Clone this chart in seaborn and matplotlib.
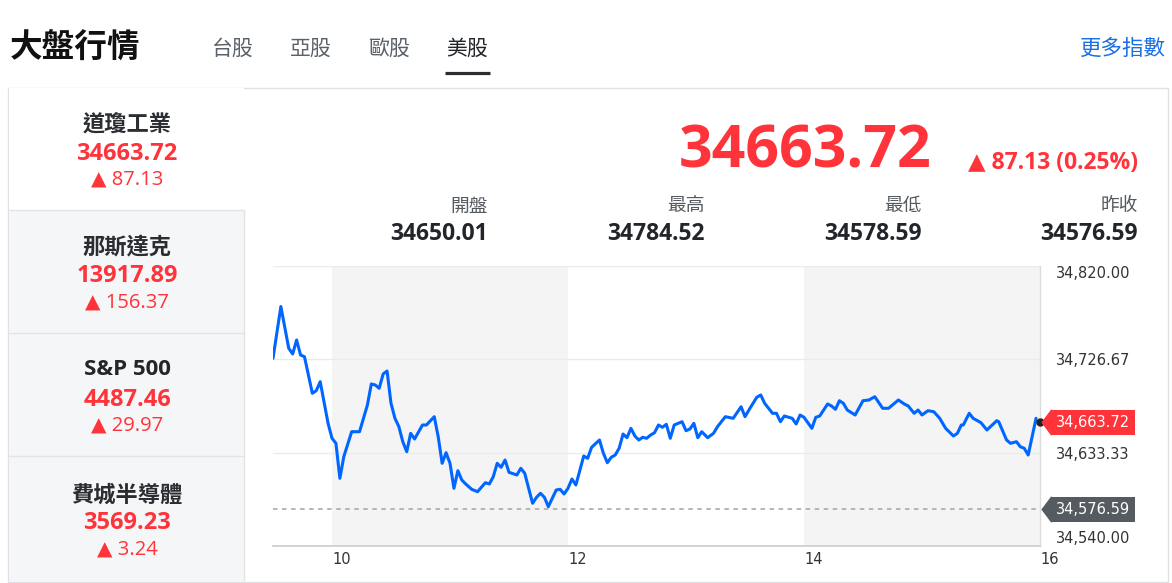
import matplotlib
matplotlib.use("Agg")
import matplotlib.pyplot as plt
import seaborn as sns
import pandas as pd
from matplotlib.patches import Rectangle
from matplotlib.lines import Line2D
from matplotlib.transforms import ScaledTranslation

# ---------------- data ----------------
page_title = "大盤行情"
market_tabs = ["台股", "亞股", "歐股", "美股"]
active_tab = "美股"
more_link = "更多指數"

index_names = ["道瓊工業", "那斯達克", "S&P 500", "費城半導體"]
index_prices = [34663.72, 13917.89, 4487.46, 3569.23]
index_changes = [87.13, 156.37, 29.97, 3.24]

last_price = 34663.72
last_change = 87.13
change_pct = 0.25
stat_labels = ["開盤", "最高", "最低", "昨收"]
stat_values = [34650.01, 34784.52, 34578.59, 34576.59]
prev_close = 34576.59

minutes_since_open = [
    0, 4, 8, 10, 12, 14, 16, 20, 22, 24,
    28, 30, 32, 34, 36, 40, 44, 48, 50, 52,
    54, 56, 58, 60, 62, 64, 66, 68, 70, 72,
    76, 78, 82, 84, 86, 88, 90, 92, 94, 96,
    98, 101, 104, 108, 110, 112, 114, 116, 118, 120,
    124, 126, 128, 132, 134, 136, 138, 140, 142, 144,
    146, 148, 150, 152, 154, 158, 160, 162, 166, 168,
    170, 172, 174, 176, 178, 180, 182, 184, 186, 188,
    190, 192, 194, 196, 198, 200, 202, 204, 208, 210,
    212, 214, 216, 218, 221, 224, 226, 230, 234, 238,
    240, 243, 246, 248, 250, 254, 256, 258, 260, 264,
    266, 268, 270, 274, 276, 278, 282, 284, 286, 288,
    290, 292, 296, 300, 303, 306, 310, 313, 318, 321,
    323, 326, 328, 330, 333, 336, 339, 342, 346, 348,
    350, 351, 354, 356, 360, 363, 368, 369, 373, 375,
    378, 380, 382, 384, 388,
]
dow_values = [
    34727.7, 34779.5, 34737.7, 34732.0, 34746.0, 34731.0, 34729.3, 34692.7, 34695.3, 34704.3,
    34662.7, 34647.7, 34642.7, 34607.7, 34629.3, 34654.3, 34654.3, 34681.0, 34702.0, 34701.0,
    34697.7, 34712.0, 34715.0, 34682.7, 34667.7, 34659.3, 34644.3, 34634.3, 34652.7, 34647.0,
    34661.0, 34661.0, 34669.3, 34649.3, 34622.7, 34633.3, 34622.7, 34597.7, 34615.3, 34606.0,
    34602.0, 34596.7, 34594.3, 34603.3, 34602.0, 34609.3, 34622.7, 34618.7, 34626.0, 34613.7,
    34611.0, 34617.7, 34612.7, 34582.7, 34588.7, 34592.7, 34588.7, 34579.3, 34587.7, 34596.0,
    34596.7, 34592.0, 34597.7, 34607.0, 34601.0, 34630.0, 34627.7, 34638.7, 34646.0, 34632.7,
    34623.3, 34628.7, 34631.0, 34637.7, 34652.0, 34648.3, 34657.7, 34650.0, 34646.0, 34648.7,
    34647.7, 34651.0, 34653.3, 34661.0, 34658.7, 34661.7, 34647.7, 34661.0, 34664.3, 34655.3,
    34657.0, 34662.7, 34648.3, 34654.3, 34648.3, 34652.7, 34659.3, 34669.3, 34667.7, 34679.3,
    34669.3, 34679.3, 34688.7, 34691.0, 34682.7, 34672.7, 34672.7, 34664.3, 34670.0, 34667.7,
    34662.0, 34671.0, 34668.7, 34657.7, 34668.7, 34670.0, 34682.0, 34680.0, 34676.7, 34685.3,
    34682.7, 34676.0, 34671.0, 34685.3, 34686.0, 34689.3, 34677.7, 34677.7, 34686.0, 34682.0,
    34680.0, 34672.7, 34676.0, 34671.0, 34675.3, 34674.3, 34667.7, 34657.7, 34650.0, 34652.7,
    34661.0, 34661.0, 34672.7, 34667.7, 34663.3, 34656.0, 34665.3, 34664.3, 34646.0, 34642.7,
    34644.3, 34639.3, 34637.7, 34631.0, 34667.7,
]
session_open_hour = 9.5
session_close_hour = 16.0

y_ticks = [34540.00, 34633.33, 34726.67, 34820.00]
x_ticks = [10, 12, 14, 16]
shaded_hours = [(10, 12), (14, 16)]

# ---------------- style ----------------
sns.set_theme(style="white")
plt.rcParams['font.family'] = ['Noto Sans CJK TC', 'DejaVu Sans']

CJK = ['Noto Sans CJK TC', 'DejaVu Sans']
NUM = ['Open Sans', 'DejaVu Sans']
RED = '#ff333a'
DARK = '#222529'
GRAY_TXT = '#5b6168'

W, H = 1172, 583
fig = plt.figure(figsize=(W / 100, H / 100), dpi=100)
fig.patch.set_facecolor('white')


def fx(px):
    return px / W


def fy(py):
    return 1 - py / H


def frect(x0, y0, x1, y1, **kw):
    r = Rectangle((fx(x0), fy(y1)), fx(x1) - fx(x0), fy(y0) - fy(y1),
                  transform=fig.transFigure, zorder=-10, **kw)
    fig.add_artist(r)


def fline(xs, ys, **kw):
    fig.add_artist(Line2D([fx(v) for v in xs], [fy(v) for v in ys],
                          transform=fig.transFigure, zorder=-5, **kw))


# ---------------- header ----------------
fig.text(fx(10), fy(48), page_title, fontsize=23.5, weight='bold', color='#111111',
         family=CJK, ha='left', va='center')
tab_centers = [233, 311, 389, 467]
for t, c in zip(market_tabs, tab_centers):
    fig.text(fx(c), fy(48.5), t, fontsize=15, family=CJK, ha='center', va='center',
             color=DARK if t == active_tab else GRAY_TXT)
fline([445, 490], [72.5, 72.5], lw=2.3, color='#2a2e33', solid_capstyle='butt')
fig.text(fx(1166), fy(48.5), more_link, fontsize=15.5, family=CJK, ha='right', va='center',
         color='#1a6fe3')

# ---------------- panel & sidebar ----------------
frect(8, 87.5, 1168, 582, facecolor='white', edgecolor='#dfe1e5', lw=1)
bounds = [87.5, 210, 333, 456, 582]
for i in range(4):
    frect(8.5, bounds[i] + 0.5, 244, bounds[i + 1] - 0.5,
          facecolor='white' if i == 0 else '#f5f6f8', edgecolor='none')
for b in bounds[1:4]:
    fline([8.5, 244], [b, b], lw=1, color='#e2e4e8')
fline([244, 244], [210, 582], lw=1, color='#e2e4e8')

name_y = [124.5, 247, 371, 495]
price_y = [154, 276.5, 400.5, 523]
chg_y = [180, 302.5, 426, 549.5]
for nm, pr, ch, ny, py, cy in zip(index_names, index_prices, index_changes, name_y, price_y, chg_y):
    if nm.isascii():
        fig.text(fx(127), fy(ny - 1.5), nm, fontsize=16, weight='bold', family=NUM,
                 color=DARK, ha='center', va='center')
    else:
        fig.text(fx(127), fy(ny), nm, fontsize=16, weight='bold', family=CJK,
                 color='#2a2d31', ha='center', va='center')
    fig.text(fx(127), fy(py), f"{pr:.2f}", fontsize=17, weight='bold', family=NUM,
             color=RED, ha='center', va='center')
    fig.text(fx(127), fy(cy), f"▲ {ch:.2f}", fontsize=14.5, family=NUM,
             color=RED, ha='center', va='center')

# ---------------- quote header ----------------
fig.text(fx(932), fy(152), f"{last_price:.2f}", fontsize=42.5, weight='bold', family=NUM,
         color=RED, ha='right', va='center')
fig.text(fx(1138), fy(163), f"▲ {last_change:.2f} ({change_pct:.2f}%)", fontsize=16.5,
         weight='bold', family=NUM, color=RED, ha='right', va='center')
stat_right = [488, 705, 922, 1138]
for lab, val, xr in zip(stat_labels, stat_values, stat_right):
    fig.text(fx(xr), fy(206), lab, fontsize=13.5, family=CJK, color='#555a60',
             ha='right', va='center')
    fig.text(fx(xr), fy(234), f"{val:.2f}", fontsize=16.5, weight='bold', family=NUM,
             color=DARK, ha='right', va='center')

# ---------------- chart ----------------
ax = fig.add_axes([fx(273), fy(546), fx(1040) - fx(273), fy(266) - fy(546)])
ax.set_facecolor('none')
ax.set_zorder(2)

df = pd.DataFrame({
    'hour': [session_open_hour + m / 60 for m in minutes_since_open],
    'value': dow_values,
})

for a, b in shaded_hours:
    ax.axvspan(a, b, color='#f4f4f4', lw=0, zorder=0)

ax.axhline(prev_close, color='#b0b0b0', lw=1.3, ls=(0, (2.5, 2.5)), zorder=2)

sns.lineplot(data=df, x='hour', y='value', ax=ax, color='#0066ff', lw=2.2,
             estimator=None, sort=False, zorder=3)
ax.plot([session_close_hour], [last_price], 'o', color='#222222', ms=5, zorder=5,
        clip_on=False)

ax.set_xlim(session_open_hour, session_close_hour)
ax.set_ylim(y_ticks[0], y_ticks[-1])
ax.set_xlabel('')
ax.set_ylabel('')

ax.set_xticks(x_ticks)
ax.set_xticklabels([str(t) for t in x_ticks])
ax.yaxis.tick_right()
ax.set_yticks(y_ticks)
ax.set_yticklabels([f"{v:,.2f}" for v in y_ticks])
ax.tick_params(axis='y', length=0, pad=11.5, labelsize=10.5, labelcolor='#333333')
ax.tick_params(axis='x', length=0, pad=4.5, labelsize=10.5, labelcolor='#333333')
for lbl in ax.get_yticklabels():
    lbl.set_family('DejaVu Sans')
for lbl in ax.get_xticklabels():
    lbl.set_family('DejaVu Sans')
    lbl.set_ha('left')
ylbls = ax.get_yticklabels()
ylbls[0].set_va('bottom')
ylbls[-1].set_va('top')

ax.yaxis.grid(True, color='#ebebeb', lw=1, zorder=1)
ax.xaxis.grid(False)
ax.set_axisbelow(True)
for s in ['top', 'left']:
    ax.spines[s].set_visible(False)
ax.spines['right'].set_color('#dcdcdc')
ax.spines['right'].set_linewidth(1)
ax.spines['bottom'].set_color('#c9ccd3')
ax.spines['bottom'].set_linewidth(1.2)

# price tags on the right axis
tag_verts = [(-0.75, 0), (0, 1), (0, -1)]
box_pad = 0.36
tag_fs = 10.5
for val, col in [(last_price, RED), (prev_close, '#555b61')]:
    ax.annotate(f"{val:,.2f}", xy=(1, val), xycoords=('axes fraction', 'data'),
                xytext=(11.5, 0), textcoords='offset points', ha='left', va='center',
                fontsize=tag_fs, family='DejaVu Sans', color='white', zorder=6,
                annotation_clip=False,
                bbox=dict(boxstyle=f'square,pad={box_pad}', fc=col, ec='none'))
    tr = ax.get_yaxis_transform() + ScaledTranslation((11.5 - box_pad * tag_fs + 0.3) / 72, 0,
                                                      fig.dpi_scale_trans)
    ax.plot([1], [val], marker=tag_verts, ms=19.5, mew=0, color=col, transform=tr,
            clip_on=False, zorder=6)

fig.savefig('out.png', dpi=100, facecolor='white')
